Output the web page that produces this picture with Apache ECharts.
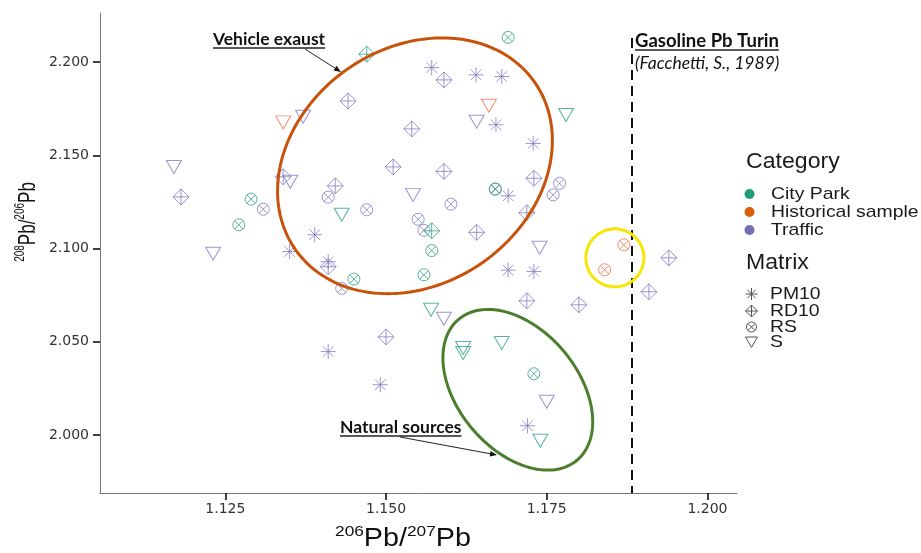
<!DOCTYPE html>
<html>
<head>
<meta charset="utf-8">
<script src="https://cdn.jsdelivr.net/npm/echarts@6/dist/echarts.min.js"></script>
<style>
  html, body { margin: 0; padding: 0; background: #fff; }
  #chart { width: 921px; height: 553px; }
</style>
</head>
<body>
<div id="chart"></div>
<script>
// tick labels
var xTicks = [1.125, 1.150, 1.175, 1.200];
var yTicks = [2.000, 2.050, 2.100, 2.150, 2.200];
var categories = ['City Park', 'Historical sample', 'Traffic'];
var matrices = ['PM10', 'RD10', 'RS', 'S'];

// points: [206Pb/207Pb, 208Pb/206Pb]
var trafficPM10 = [[1.1571, 2.1971], [1.1640, 2.1932], [1.1680, 2.1923], [1.1671, 2.1664], [1.1729, 2.1564],
  [1.1690, 2.1283], [1.1389, 2.1074], [1.1350, 2.0984], [1.1410, 2.0929], [1.1690, 2.0884],
  [1.1730, 2.0877], [1.1410, 2.0447], [1.1491, 2.0269], [1.1720, 2.0049]];
var trafficRD10 = [[1.1181, 2.1277], [1.1340, 2.1385], [1.1441, 2.1792], [1.1590, 2.1905], [1.1540, 2.1642],
  [1.1511, 2.1438], [1.1590, 2.1414], [1.1421, 2.1336], [1.1641, 2.1087], [1.1719, 2.1192],
  [1.1730, 2.1377], [1.1410, 2.0902], [1.1500, 2.0526], [1.1719, 2.0719], [1.1800, 2.0698],
  [1.1940, 2.0950], [1.1909, 2.0768]];
var trafficRS = [[1.1309, 2.1211], [1.1410, 2.1276], [1.1470, 2.1208], [1.1550, 2.1157], [1.1559, 2.1098],
  [1.1601, 2.1238], [1.1770, 2.1350], [1.1760, 2.1288], [1.1431, 2.0786], [1.1670, 2.1319]];
var trafficS = [[1.1170, 2.1438], [1.1231, 2.0972], [1.1371, 2.1707], [1.1351, 2.1358], [1.1641, 2.1680],
  [1.1542, 2.1288], [1.1739, 2.1004], [1.1590, 2.0623], [1.1750, 2.0178]];
var parkRS = [[1.1690, 2.2133], [1.1290, 2.1265], [1.1271, 2.1127], [1.1670, 2.1319], [1.1571, 2.0989],
  [1.1450, 2.0836], [1.1559, 2.0859], [1.1730, 2.0328]];
var parkRD10 = [[1.1470, 2.2043], [1.1571, 2.1095]];
var parkS = [[1.1431, 2.1181], [1.1780, 2.1717], [1.1570, 2.0671], [1.1620, 2.0466], [1.1620, 2.0439],
  [1.1680, 2.0493], [1.1740, 1.9968]];
var histS = [[1.1340, 2.1677], [1.1660, 2.1766]];
var histRS = [[1.1870, 2.1020], [1.1840, 2.0886]];
var gasolineTurin = 1.1882;

var xMin = 1.1055, xMax = 1.2046, yMin = 1.9688, yMax = 2.2264;

var catColor = { 'City Park': '#1b9e77', 'Historical sample': '#d95f02', 'Traffic': '#7570b3' };
var markColor = { 'City Park': '#2fa384', 'Historical sample': '#ec7652', 'Traffic': '#817dc3' };
var SYM = {
  PM10: 'M0,5L10,5M5,0L5,10M1.5,1.5L8.5,8.5M1.5,8.5L8.5,1.5',
  RD10: 'M5,0L10,5L5,10L0,5ZM0,5L10,5M5,0L5,10',
  RS: 'M10,5A5,5,0,1,1,0,5A5,5,0,1,1,10,5ZM1.46,1.46L8.54,8.54M1.46,8.54L8.54,1.46',
  S: 'M0,0L10,0L5,8.66Z'
};
var SIZE = { PM10: 15, RD10: 16, RS: 12, S: [15, 13] };

function scatter(cat, mat, data) {
  return {
    type: 'scatter',
    name: cat + ' ' + mat,
    data: data,
    symbol: 'path://' + SYM[mat],
    symbolSize: SIZE[mat],
    itemStyle: { color: 'rgba(255,255,255,0)', borderColor: markColor[cat], borderWidth: 1 },
    emphasis: { disabled: true },
    silent: true
  };
}

var series = [
  scatter('Traffic', 'PM10', trafficPM10),
  scatter('Traffic', 'RD10', trafficRD10),
  scatter('Traffic', 'RS', trafficRS),
  scatter('Traffic', 'S', trafficS),
  scatter('City Park', 'RS', parkRS),
  scatter('City Park', 'RD10', parkRD10),
  scatter('City Park', 'S', parkS),
  scatter('Historical sample', 'S', histS),
  scatter('Historical sample', 'RS', histRS)
];
// dashed reference line
series[series.length - 1].markLine = {
  silent: true,
  symbol: 'none',
  label: { show: false },
  lineStyle: { color: '#111', width: 2, type: [10, 6] },
  data: [[{ coord: [gasolineTurin, 2.213] }, { coord: [gasolineTurin, yMin] }]]
};

var tickFont = { fontFamily: 'DejaVu Sans', fontSize: 14, color: '#333' };

var myChart = echarts.init(document.getElementById('chart'));
var option = {
  animation: false,
  backgroundColor: '#fff',
  grid: { left: 100, right: 184, top: 13, bottom: 60 },
  xAxis: {
    type: 'value', min: xMin, max: xMax,
    splitLine: { show: false },
    axisLine: { lineStyle: { color: '#777', width: 1 } },
    axisTick: { customValues: xTicks, length: 7, lineStyle: { color: '#000', width: 1.5 } },
    axisLabel: Object.assign({ customValues: xTicks, margin: 9, formatter: function (v) { return v.toFixed(3); } }, tickFont)
  },
  yAxis: {
    type: 'value', min: yMin, max: yMax,
    splitLine: { show: false },
    axisLine: { lineStyle: { color: '#777', width: 1 } },
    axisTick: { customValues: yTicks, length: 7, lineStyle: { color: '#000', width: 1.5 } },
    axisLabel: Object.assign({ customValues: yTicks, margin: 11, formatter: function (v) { return v.toFixed(3); } }, tickFont)
  },
  series: series
};
myChart.setOption(option);

// annotations and legend
var ctx = document.createElement('canvas').getContext('2d');
function textWidth(str, font) { ctx.font = font; return ctx.measureText(str).width; }
function toPx(x, y) { return myChart.convertToPixel({ gridIndex: 0 }, [x, y]); }

function ellipse(c, a, b, deg, color) {
  var p = toPx(c[0], c[1]);
  var t = deg * Math.PI / 180;
  var pts = [];
  for (var i = 0; i < 160; i++) {
    var u = i / 160 * 2 * Math.PI;
    var ex = a * Math.cos(u), ey = b * Math.sin(u);
    pts.push([p[0] + ex * Math.cos(t) - ey * Math.sin(t), p[1] + ex * Math.sin(t) + ey * Math.cos(t)]);
  }
  return { type: 'polygon', z: 20, silent: true, shape: { points: pts }, style: { fill: 'none', stroke: color, lineWidth: 3 } };
}

function note(str, x, y, size, underline, italic) {
  var weight = underline ? 'bold' : 'normal';
  var fstyle = italic ? 'italic' : 'normal';
  var els = [{
    type: 'text', x: x, y: y, z: 30, silent: true,
    style: {
      text: str, fill: '#111', fontFamily: 'Lato', fontSize: size, fontWeight: weight, fontStyle: fstyle,
      align: 'left', verticalAlign: 'middle', textAlign: 'left', textVerticalAlign: 'middle'
    }
  }];
  if (underline) {
    var w = textWidth(str, fstyle + ' ' + weight + ' ' + size + 'px Lato');
    els.push({ type: 'line', z: 30, silent: true, shape: { x1: x, y1: y + 9, x2: x + w, y2: y + 9 }, style: { stroke: '#222', lineWidth: 1.3 } });
  }
  return els;
}

function arrow(x1, y1, x2, y2) {
  var ang = Math.atan2(y2 - y1, x2 - x1), L = 7, W = 2.8;
  var bx = x2 - L * Math.cos(ang), by = y2 - L * Math.sin(ang);
  return [
    { type: 'line', z: 30, silent: true, shape: { x1: x1, y1: y1, x2: bx, y2: by }, style: { stroke: '#222', lineWidth: 1 } },
    { type: 'polygon', z: 30, silent: true, shape: { points: [[x2, y2], [bx - W * Math.sin(ang), by + W * Math.cos(ang)], [bx + W * Math.sin(ang), by - W * Math.cos(ang)]] }, style: { fill: '#111' } }
  ];
}

function richTitle(big, small) {
  return {
    b: { fontFamily: 'Liberation Sans', fontSize: big, lineHeight: big + 4, fill: '#111', color: '#111' },
    s: { fontFamily: 'Liberation Sans', fontSize: small, lineHeight: small + 1, verticalAlign: 'top', fill: '#111', color: '#111' }
  };
}

var g = [];
g.push(ellipse([1.1545, 2.1444], 146, 118, -35, '#c8520a'));
g.push(ellipse([1.1705, 2.0242], 92, 60, 50, '#4b7e2c'));
g.push(ellipse([1.1856, 2.0950], 29, 29, 0, '#f7e600'));

g = g.concat(note('Vehicle exaust', 213, 39, 17.5, true));
g = g.concat(arrow(305, 49, 341, 72));
g = g.concat(note('Natural sources', 340, 427, 17.5, true));
g = g.concat(arrow(400, 437, 497, 455));
g = g.concat(note('Gasoline Pb Turin', 635, 41, 18.5, true));
g = g.concat(note('(Facchetti, S., 1989)', 635, 63, 17.5, false, true));

// axis titles
g.push({ type: 'text', x: 403, y: 539, scaleX: 1.15, z: 30, silent: true,
  style: { text: '{s|206}{b|Pb/}{s|207}{b|Pb}', rich: richTitle(25, 15), align: 'center', verticalAlign: 'middle', textAlign: 'center', textVerticalAlign: 'middle' } });
g.push({ type: 'text', x: 28, y: 222, rotation: Math.PI / 2, scaleY: 1.4, z: 30, silent: true,
  style: { text: '{s|208}{b|Pb/}{s|206}{b|Pb}', rich: richTitle(17, 10), align: 'center', verticalAlign: 'middle', textAlign: 'center', textVerticalAlign: 'middle' } });

// legend
function legendText(str, x, y, size, sx) {
  return { type: 'text', x: x, y: y, scaleX: sx, z: 30, silent: true,
    style: { text: str, fill: '#1a1a1a', fontFamily: 'Liberation Sans', fontSize: size,
      align: 'left', verticalAlign: 'middle', textAlign: 'left', textVerticalAlign: 'middle' } };
}
function seg(x1, y1, x2, y2) {
  return { type: 'line', z: 30, silent: true, shape: { x1: x1, y1: y1, x2: x2, y2: y2 }, style: { stroke: '#555', lineWidth: 1 } };
}
function legendSymbol(m, cx, cy) {
  var r = 6, d = 4.2, out = [];
  if (m === 'PM10') {
    out.push(seg(cx - r, cy, cx + r, cy), seg(cx, cy - r, cx, cy + r), seg(cx - d, cy - d, cx + d, cy + d), seg(cx - d, cy + d, cx + d, cy - d));
  } else if (m === 'RD10') {
    out.push({ type: 'polygon', z: 30, silent: true, shape: { points: [[cx, cy - r], [cx + r, cy], [cx, cy + r], [cx - r, cy]] }, style: { fill: 'none', stroke: '#555', lineWidth: 1 } });
    out.push(seg(cx - r, cy, cx + r, cy), seg(cx, cy - r, cx, cy + r));
  } else if (m === 'RS') {
    out.push({ type: 'circle', z: 30, silent: true, shape: { cx: cx, cy: cy, r: 5 }, style: { fill: 'none', stroke: '#555', lineWidth: 1 } });
    out.push(seg(cx - 3.5, cy - 3.5, cx + 3.5, cy + 3.5), seg(cx - 3.5, cy + 3.5, cx + 3.5, cy - 3.5));
  } else {
    out.push({ type: 'polygon', z: 30, silent: true, shape: { points: [[cx - 6, cy - 5], [cx + 6, cy - 5], [cx, cy + 5.4]] }, style: { fill: 'none', stroke: '#555', lineWidth: 1 } });
  }
  return out;
}

g.push(legendText('Category', 746, 162, 22, 1.05));
var catY = [194, 212, 230];
categories.forEach(function (c, i) {
  g.push({ type: 'circle', z: 30, silent: true, shape: { cx: 749.5, cy: catY[i], r: 5 }, style: { fill: catColor[c] } });
  g.push(legendText(c, 771, catY[i], 17, 1.14));
});
g.push(legendText('Matrix', 746, 263, 22, 1.05));
var matY = [294, 311, 327, 342];
matrices.forEach(function (m, i) {
  g = g.concat(legendSymbol(m, 751.5, matY[i]));
  g.push(legendText(m, 770, matY[i], 17, 1.14));
});

myChart.setOption({ graphic: { elements: g } });
window.onresize = myChart.resize;
</script>
</body>
</html>
